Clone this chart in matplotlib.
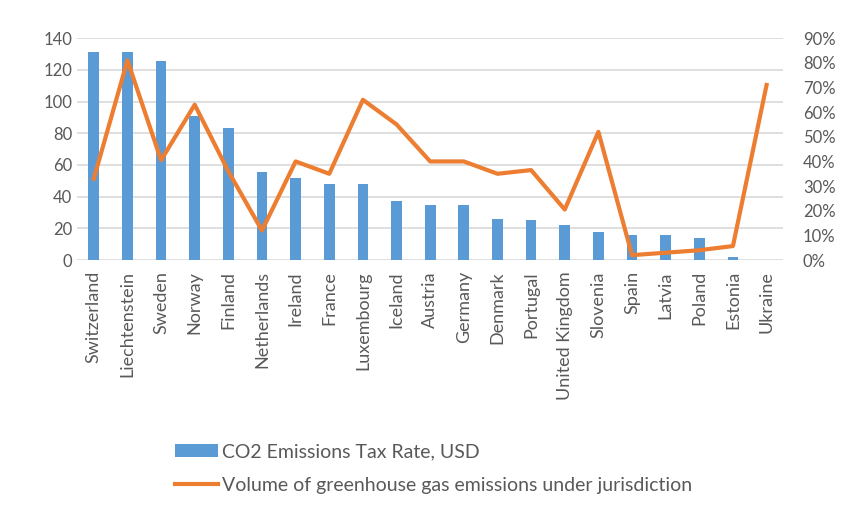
import numpy as np
import matplotlib.pyplot as plt
from matplotlib.ticker import PercentFormatter

plt.rcParams['font.family'] = ['Lato', 'DejaVu Sans']

# Veri
countries = ['Switzerland', 'Liechtenstein', 'Sweden', 'Norway', 'Finland', 'Netherlands',
             'Ireland', 'France', 'Luxembourg', 'Iceland', 'Austria', 'Germany', 'Denmark',
             'Portugal', 'United Kingdom', 'Slovenia', 'Spain', 'Latvia', 'Poland',
             'Estonia', 'Ukraine']
tax_rate = [131, 131, 125.5, 91, 83.5, 55.5, 52, 48, 48, 37.5, 35, 35, 26, 25.5, 22,
            18, 16, 16, 14, 1.7, 0]
ghg_share = [33, 81, 40.5, 63, 36, 12, 40, 35, 65, 55, 40, 40, 35, 36.5, 20.5,
             52, 2, 3, 4, 5.7, 71]

grey = '#595959'
fig = plt.figure(figsize=(8.44, 5.11), dpi=100)
ax = fig.add_axes([0.0912, 0.491, 0.837, 0.4344])
x = np.arange(len(countries))

ax.bar(x, tax_rate, width=0.32, color='#5B9BD5', label='CO2 Emissions Tax Rate, USD', zorder=2)
ax.set_ylim(0, 140)
ax.set_yticks(range(0, 141, 20))
ax.set_xlim(-0.5, len(countries) - 0.5)
ax.yaxis.grid(True, color='#d9d9d9', linewidth=1.2, zorder=0)
ax.set_axisbelow(True)
ax.set_xticks(x)
ax.set_xticklabels(countries, rotation=90, fontsize=13, color=grey)
ax.tick_params(axis='both', length=0, colors=grey)
ax.tick_params(axis='y', labelsize=12)
ax.tick_params(axis='x', pad=8)

ax2 = ax.twinx()
ax2.plot(x, ghg_share, color='#ED7D31', linewidth=3.0, label='Volume of greenhouse gas emissions under jurisdiction', zorder=3)
ax2.set_ylim(0, 90)
ax2.set_yticks(range(0, 91, 10))
ax2.yaxis.set_major_formatter(PercentFormatter(decimals=0))
ax2.tick_params(axis='y', length=0, colors=grey, labelsize=12, pad=14)

for a in (ax, ax2):
    for s in a.spines.values():
        s.set_visible(False)

h1, l1 = ax.get_legend_handles_labels()
h2, l2 = ax2.get_legend_handles_labels()
fig.legend(h1 + h2, l1 + l2, loc='upper left', bbox_to_anchor=(0.198, 0.148), frameon=False,
           fontsize=14, labelcolor=grey, handlelength=2.2, handletextpad=0.2, labelspacing=0.85,
           borderaxespad=0)

fig.savefig('out.png', dpi=100)
